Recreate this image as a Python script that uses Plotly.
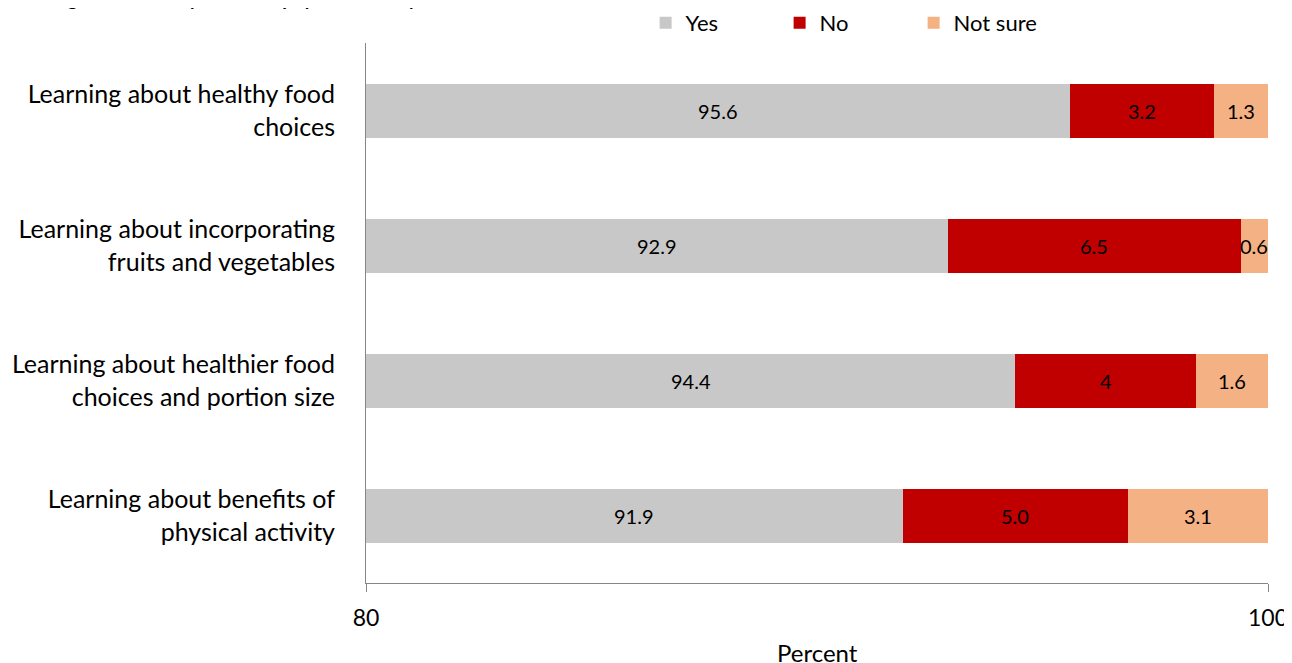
import plotly.graph_objects as go

categories = [
    "Learning about healthy food<br>choices",
    "Learning about incorporating<br>fruits and vegetables",
    "Learning about healthier food<br>choices and portion size",
    "Learning about benefits of<br>physical activity",
]
yes_vals = [95.6, 92.9, 94.4, 91.9]
no_vals = [3.2, 6.5, 4.0, 5.0]
notsure_vals = [1.3, 0.6, 1.6, 3.1]
yes_text = ["95.6", "92.9", "94.4", "91.9"]
no_text = ["3.2", "6.5", "4", "5.0"]
notsure_text = ["1.3", "0.6", "1.6", "3.1"]
x_range = [80, 100]
title_text = "Learning about healthy food and physical activity"
x_title = "Percent"

FONT = "Lato"
fig = go.Figure()
fig.add_trace(go.Bar(y=categories, x=yes_vals, name="Yes", orientation="h",
                     marker=dict(color="#C8C8C8", line=dict(width=0))))
fig.add_trace(go.Bar(y=categories, x=no_vals, name="No", orientation="h",
                     marker=dict(color="#C00000", line=dict(width=0))))
fig.add_trace(go.Bar(y=categories, x=notsure_vals, name="Not sure", orientation="h",
                     marker=dict(color="#F4B183", line=dict(width=0))))

annotations = []
for i, cat in enumerate(categories):
    y0 = yes_vals[i]
    y1 = y0 + no_vals[i]
    y2 = y1 + notsure_vals[i]
    centers = [
        (max(x_range[0], 0) + y0) / 2,
        (y0 + y1) / 2,
        (y1 + min(y2, x_range[1])) / 2,
    ]
    for cx, t in zip(centers, [yes_text[i], no_text[i], notsure_text[i]]):
        annotations.append(dict(x=cx, y=cat, xref="x", yref="y", text=t, showarrow=False,
                                font=dict(family=FONT, size=20, color="#000000")))

annotations.append(dict(x=0, xref="paper", xshift=-363, y=1, yref="paper", yanchor="bottom",
                        yshift=31, xanchor="left", text="<b>" + title_text + "</b>",
                        showarrow=False, font=dict(family=FONT, size=19, color="#000000")))
annotations.append(dict(x=0.5, xref="paper", y=0, yref="paper", yanchor="middle",
                        yshift=-69, xanchor="center", text=x_title, showarrow=False,
                        font=dict(family=FONT, size=24, color="#000000")))

# page has an 8px body margin, so the figure is offset by 8px in the window
fig.update_layout(
    barmode="stack",
    bargap=0.6,
    width=1284, height=655,
    margin=dict(l=358, r=24, t=35, b=80, pad=0, autoexpand=False),
    paper_bgcolor="white", plot_bgcolor="white",
    font=dict(family=FONT, size=22, color="#000000"),
    showlegend=True,
    legend=dict(orientation="h", x=0.31, xanchor="left", y=1.076, yanchor="top",
                font=dict(family=FONT, size=22), traceorder="normal",
                entrywidth=89, bgcolor="rgba(0,0,0,0)"),
    annotations=annotations,
)
fig.update_xaxes(range=x_range, dtick=20, tick0=80, showgrid=True, gridcolor="#868686",
                 gridwidth=1, zeroline=False, showline=True, linecolor="#868686", linewidth=1,
                 ticks="outside", ticklen=8, tickcolor="#868686", automargin=False,
                 tickfont=dict(family=FONT, size=23), ticklabelstandoff=6)
fig.update_yaxes(autorange="reversed", showline=True, linecolor="#868686", linewidth=1,
                 showgrid=False, ticks="", tickfont=dict(family=FONT, size=25),
                 ticklabelstandoff=25, automargin=False)

fig.write_html("out.html")
